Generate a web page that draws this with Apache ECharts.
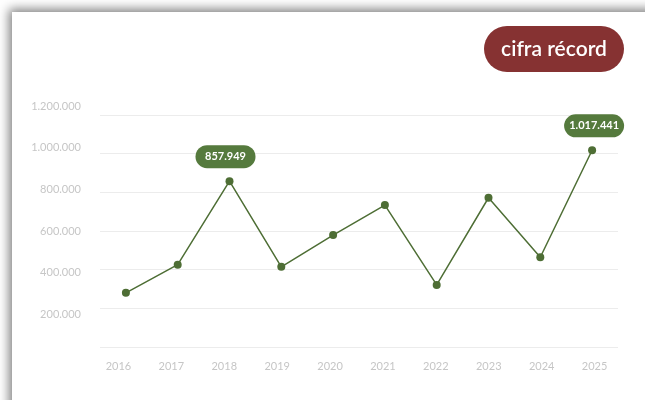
<!DOCTYPE html>
<html>
<head>
<meta charset="utf-8">
<script src="https://cdn.jsdelivr.net/npm/echarts@6/dist/echarts.min.js"></script>
<style>
  html, body { margin:0; padding:0; background:#ffffff; overflow:hidden; }
  #card { position:absolute; left:12px; top:12px; width:720px; height:460px; background:#fff;
          box-shadow: 0 0 10px 3px rgba(0,0,0,0.5); }
  #chart { position:absolute; left:0; top:0; width:645px; height:400px; }
</style>
</head>
<body>
<div id="card"></div>
<div id="chart"></div>
<script>
const years = ['2016','2017','2018','2019','2020','2021','2022','2023','2024','2025'];
const visitors = [280000, 426000, 857949, 415000, 579000, 734000, 321000, 772000, 464000, 1017441];
const highlighted = ['2018', '2025'];
const yTicks = [0, 200000, 400000, 600000, 800000, 1000000, 1200000];
const badgeText = 'cifra récord';

const fmt = v => String(Math.round(v)).replace(/\B(?=(\d{3})+(?!\d))/g, '.');
const green = '#4e6e35';
const labelGreen = '#557a3d';

const chart = echarts.init(document.getElementById('chart'));
chart.setOption({
  animation: false,
  textStyle: { fontFamily: 'Lato' },
  grid: [
    { left: 100, right: 27, top: 115, bottom: 53 },
    { left: 92, right: 24, top: 106, bottom: 44 }
  ],
  xAxis: [
    { gridIndex: 0, type: 'category', data: years, boundaryGap: true,
      axisLine: { show: false }, axisTick: { show: false }, axisLabel: { show: false } },
    { gridIndex: 1, type: 'category', data: years, boundaryGap: true,
      axisLine: { show: false }, axisTick: { show: false },
      axisLabel: { color: '#c6c6c6', fontSize: 11, margin: 5, fontFamily: 'Lato' } }
  ],
  yAxis: [
    { gridIndex: 0, type: 'value', min: yTicks[0], max: yTicks[yTicks.length-1], interval: yTicks[1]-yTicks[0],
      axisLine: { show: false }, axisTick: { show: false }, axisLabel: { show: false },
      splitLine: { lineStyle: { color: '#ececec', width: 1 } } },
    { gridIndex: 1, type: 'value', min: yTicks[0], max: yTicks[yTicks.length-1], interval: yTicks[1]-yTicks[0],
      axisLine: { show: false }, axisTick: { show: false }, splitLine: { show: false },
      axisLabel: { color: '#c6c6c6', fontSize: 11, margin: 11, fontFamily: 'Lato', showMinLabel: false,
                   formatter: v => fmt(v) } }
  ],
  series: [{
    type: 'line',
    xAxisIndex: 0, yAxisIndex: 0,
    data: visitors.map((v, i) => ({
      value: v,
      label: highlighted.includes(years[i]) ? {
        show: true, position: 'top', distance: 9,
        offset: [i === years.length - 1 ? 2 : -4, 0],
        formatter: p => fmt(p.value),
        color: '#ffffff', fontWeight: 'bold', fontSize: 11, fontFamily: 'Lato',
        backgroundColor: labelGreen, borderRadius: 12, padding: [6, 7], width: 46, align: 'center'
      } : { show: false }
    })),
    symbol: 'circle', symbolSize: 8,
    lineStyle: { color: green, width: 1.5 },
    itemStyle: { color: green },
  }],
  graphic: [{
    type: 'group', left: 484, top: 26,
    children: [
      { type: 'rect', shape: { x: 0, y: 0, width: 140, height: 46, r: 23 }, style: { fill: '#863232' } },
      { type: 'text', x: 70, y: 23, style: { text: badgeText, fill: '#ffffff', font: '600 21px Lato', align: 'center', verticalAlign: 'middle' } }
    ]
  }]
});
</script>
</body>
</html>
